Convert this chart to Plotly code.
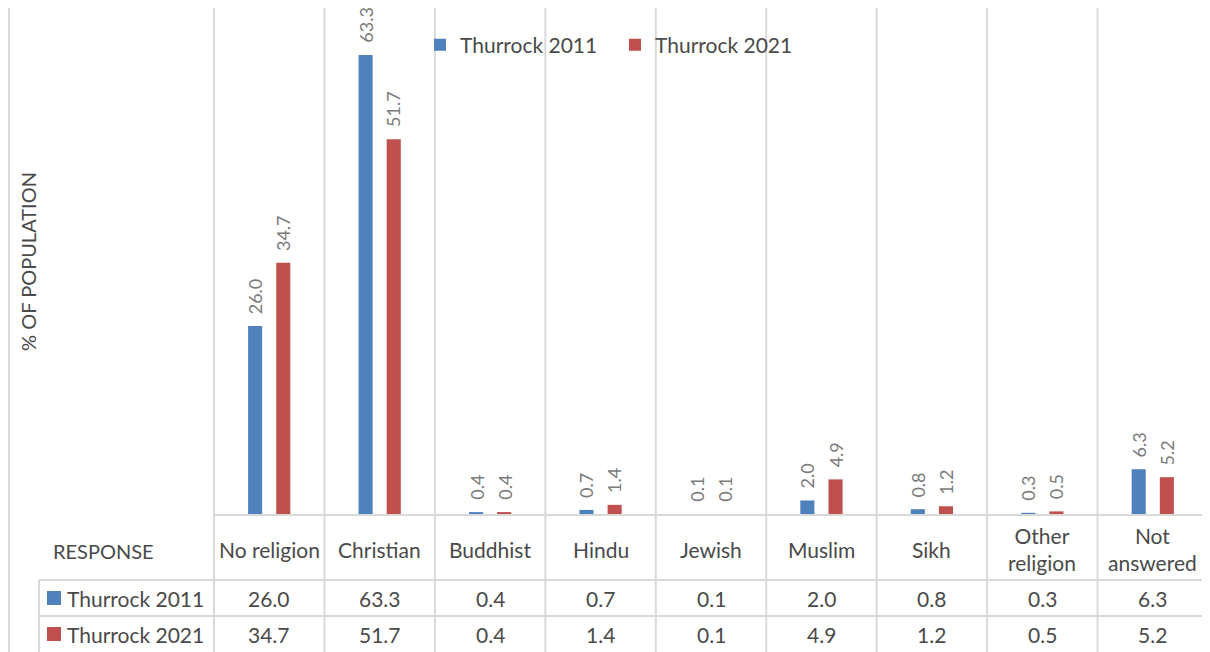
import plotly.graph_objects as go

categories = ["No religion", "Christian", "Buddhist", "Hindu", "Jewish", "Muslim", "Sikh", "Other religion", "Not answered"]
category_labels = ["No religion", "Christian", "Buddhist", "Hindu", "Jewish", "Muslim", "Sikh", "Other<br>religion", "Not<br>answered"]
series_names = ["Thurrock 2011", "Thurrock 2021"]
values_2011 = [26.0, 63.3, 0.4, 0.7, 0.1, 2.0, 0.8, 0.3, 6.3]
values_2021 = [34.7, 51.7, 0.4, 1.4, 0.1, 4.9, 1.2, 0.5, 5.2]
series_values = [values_2011, values_2021]
colors = ["#4F81BD", "#C0504D"]

# the page body adds an 8px margin; work in page pixels and subtract it
OFF = 8
W, H = 1210 - OFF, 652 - OFF
PL, PR, PT, PB = 214, 1208, 8, 515  # plot area in page pixels
L, R, T, B = PL - OFF, PR - OFF, PT - OFF, PB - OFF
FONT = "Lato"
TXT = "#4A4A4A"
LINE = "#D9D9D9"
PX_PER_UNIT = (515 - 55) / 63.3


def px_x(px):
    return (px - OFF - L) / (R - L)


def px_y(py):
    return (B - (py - OFF)) / (B - T)


fig = go.Figure()
for name, vals, col in zip(series_names, series_values, colors):
    fig.add_trace(go.Bar(x=categories, y=vals, name=name, marker_color=col,
                         marker_line_width=0, hoverinfo="x+y"))

annotations = []
# data labels
for vals, shift in zip(series_values, [-14, 14]):
    for c, v in zip(categories, vals):
        annotations.append(dict(x=c, y=v, xref="x", yref="y", text=f"{v:.1f}",
                                textangle=-90, showarrow=False, xshift=shift, yshift=10,
                                xanchor="center", yanchor="bottom",
                                font=dict(family=FONT, size=18, color="#7A7A7A")))
# category labels
for c, lab in zip(categories, category_labels):
    annotations.append(dict(x=c, y=px_y(549), xref="x", yref="paper", text=lab,
                            showarrow=False, xanchor="center", yanchor="middle",
                            font=dict(family=FONT, size=21, color=TXT)))
annotations.append(dict(x=px_x(51), y=px_y(551), xref="paper", yref="paper", text="RESPONSE",
                        showarrow=False, xanchor="left", yanchor="middle",
                        font=dict(family=FONT, size=20, color=TXT)))
# table rows
row_y = [598, 634]
for name, vals, ry in zip(series_names, series_values, row_y):
    annotations.append(dict(x=px_x(65), y=px_y(ry), xref="paper", yref="paper", text=name,
                            showarrow=False, xanchor="left", yanchor="middle",
                            font=dict(family=FONT, size=21, color=TXT)))
    for c, v in zip(categories, vals):
        annotations.append(dict(x=c, y=px_y(ry), xref="x", yref="paper", text=f"{v:.1f}",
                                showarrow=False, xanchor="center", yanchor="middle",
                                font=dict(family=FONT, size=21, color=TXT)))
# y axis title
annotations.append(dict(x=px_x(28), y=px_y(262), xref="paper", yref="paper", text="% OF POPULATION",
                        textangle=-90, showarrow=False, xanchor="center", yanchor="middle",
                        font=dict(family=FONT, size=20, color=TXT)))

shapes = []
n = len(categories)
# vertical category boundary lines (through chart, label row and table)
for k in range(n + 1):
    xb = k / n
    shapes.append(dict(type="line", xref="paper", yref="paper", x0=xb, x1=xb,
                       y0=1, y1=px_y(652), line=dict(color=LINE, width=2)))
# outer left frame line
shapes.append(dict(type="line", xref="paper", yref="paper", x0=px_x(9), x1=px_x(9),
                   y0=1, y1=px_y(652), line=dict(color=LINE, width=2)))
# table left border
shapes.append(dict(type="line", xref="paper", yref="paper", x0=px_x(39), x1=px_x(39),
                   y0=px_y(580), y1=px_y(652), line=dict(color=LINE, width=2)))
# horizontal lines
shapes.append(dict(type="line", xref="paper", yref="paper", x0=0, x1=1,
                   y0=0, y1=0, line=dict(color=LINE, width=2)))
for hy in [580, 616]:
    shapes.append(dict(type="line", xref="paper", yref="paper", x0=px_x(39), x1=1,
                       y0=px_y(hy), y1=px_y(hy), line=dict(color=LINE, width=2)))
# row legend keys
for col, ry in zip(colors, row_y):
    shapes.append(dict(type="rect", xref="paper", yref="paper", x0=px_x(47), x1=px_x(61),
                       y0=px_y(ry + 7), y1=px_y(ry - 7), line=dict(width=0), fillcolor=col))

fig.update_layout(
    width=W, height=H,
    margin=dict(l=L, r=W - R, t=T, b=H - B, autoexpand=False),
    paper_bgcolor="white", plot_bgcolor="white",
    barmode="group", bargap=0.49, bargroupgap=0.5,
    xaxis=dict(range=[-0.5, n - 0.5], showticklabels=False, showgrid=False,
               zeroline=False, showline=False, ticks="", fixedrange=True),
    yaxis=dict(range=[0, (B - T) / PX_PER_UNIT], showticklabels=False, showgrid=False,
               zeroline=False, showline=False, ticks="", fixedrange=True),
    showlegend=True,
    legend=dict(orientation="h", x=px_x(420), y=px_y(45), xanchor="left", yanchor="middle",
                entrywidth=150, entrywidthmode="pixels", bgcolor="rgba(0,0,0,0)",
                font=dict(family=FONT, size=21, color=TXT)),
    annotations=annotations,
    shapes=shapes,
)

fig.write_html("out.html")
